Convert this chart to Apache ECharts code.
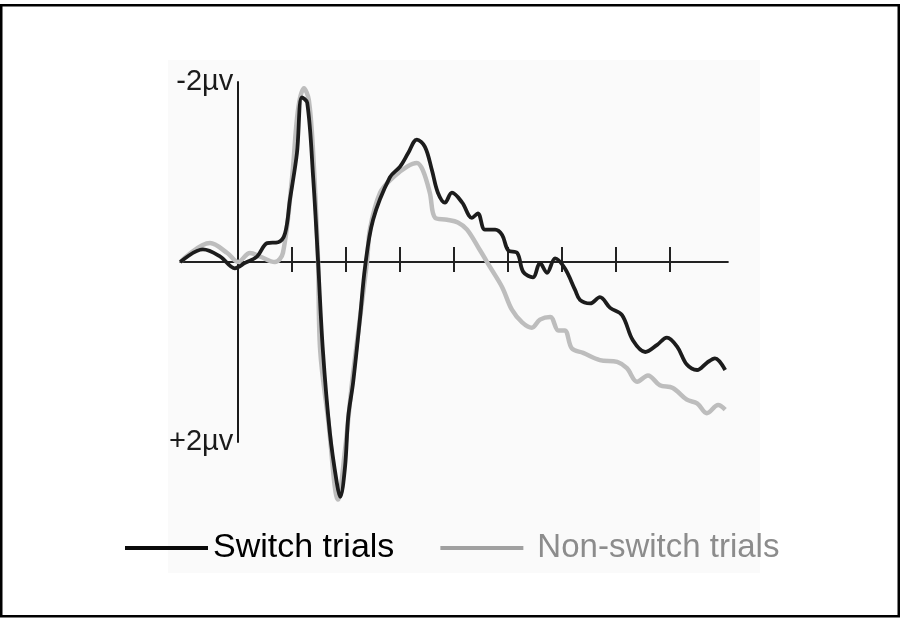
<!DOCTYPE html>
<html>
<head>
<meta charset="utf-8">
<script src="https://cdn.jsdelivr.net/npm/echarts@6/dist/echarts.min.js"></script>
<style>html,body{margin:0;padding:0;background:#fff}#c{width:902px;height:622px}</style>
</head>
<body>
<div id="c"></div>
<script>
// time (ms) , amplitude (µV; negative plotted upward)
var switchTime = [-106,-64,-32,-5,14,36,55,75,88,97,110,119,129,140,149,158,171,184,190,199,205,214,227,236,251,282,301,316,332,347,360,371,384,397,416,434,445,458,477,490,501,518,529,547,560,573,588,606,625,634,653,671,690,712,732,755,777,795,814,832,851,869,884,903];
var switchVals = [0.00,-0.14,-0.06,0.07,0.01,-0.06,-0.21,-0.22,-0.32,-0.69,-1.21,-1.83,-1.77,-0.94,-0.02,0.98,1.90,2.46,2.61,2.28,1.72,1.34,0.61,0.06,-0.47,-0.94,-1.06,-1.21,-1.36,-1.28,-1.02,-0.77,-0.66,-0.77,-0.66,-0.49,-0.54,-0.36,-0.36,-0.30,-0.13,-0.10,0.11,0.17,0.01,0.12,-0.04,0.07,0.31,0.42,0.46,0.39,0.51,0.59,0.87,1.00,0.92,0.84,0.94,1.14,1.20,1.12,1.07,1.20];
var nonSwitchTime = [-106,-51,-19,1,23,42,69,84,101,112,123,132,140,149,153,168,186,199,212,227,240,245,264,288,314,332,343,356,366,388,408,425,449,468,490,508,527,545,560,579,594,606,619,640,671,703,721,740,760,782,806,832,851,869,890,903];
var nonSwitchVals = [0.00,-0.21,-0.10,0.00,-0.10,-0.06,0.00,-0.10,-0.94,-1.69,-1.93,-1.80,-1.21,-0.02,0.98,1.76,2.64,2.09,1.34,0.61,-0.02,-0.36,-0.77,-0.94,-1.06,-1.10,-1.02,-0.77,-0.49,-0.47,-0.44,-0.36,-0.13,0.06,0.28,0.53,0.67,0.73,0.64,0.61,0.76,0.76,0.96,1.01,1.09,1.11,1.18,1.33,1.26,1.37,1.40,1.53,1.57,1.68,1.59,1.64];
var xTicks = [100,200,300,400,500,600,700,800];
var yLabelValues = [-2, 2];
var yLabelTexts = {'-2': '-2\u00b5v', '2': '+2\u00b5v'};
var seriesNames = ['Switch trials', 'Non-switch trials'];

function pairs(t, v) { return t.map(function (x, i) { return [x, v[i]]; }); }

var chart = echarts.init(document.getElementById('c'), null, {renderer: 'canvas'});
var FONT = "'Liberation Sans', Arial, sans-serif";
chart.setOption({
  animation: false,
  backgroundColor: '#ffffff',
  graphic: [
    {type: 'rect', z: -10, shape: {x: 168, y: 60, width: 592, height: 513}, style: {fill: '#fafafa'}},
    {type: 'rect', z: 100, shape: {x: 1.25, y: 5.25, width: 897.5, height: 611}, style: {fill: 'none', stroke: '#000', lineWidth: 2.5}}
  ],
  grid: {left: 180.3, width: 547.6, top: 82, height: 360, containLabel: false},
  xAxis: [
    {type: 'value', min: -106, max: 908,
     axisLine: {show: true, onZero: true, lineStyle: {color: '#222', width: 2}},
     axisTick: {show: true, inside: true, length: 15, customValues: xTicks, lineStyle: {color: '#222', width: 2}},
     axisLabel: {show: false}, splitLine: {show: false}},
    {type: 'value', min: -106, max: 908, position: 'bottom',
     axisLine: {show: false, onZero: true, onZeroAxisIndex: 0},
     axisTick: {show: true, inside: false, length: 10, customValues: xTicks, lineStyle: {color: '#222', width: 2}},
     axisLabel: {show: false}, splitLine: {show: false}}
  ],
  yAxis: {type: 'value', min: -2, max: 2, inverse: true,
    axisLine: {show: true, onZero: true, lineStyle: {color: '#1a1a1a', width: 2}},
    axisTick: {show: false},
    splitLine: {show: false},
    axisLabel: {show: true, customValues: yLabelValues, margin: -53, fontFamily: FONT, fontSize: 29, color: '#1a1a1a',
      formatter: function (v) { return yLabelTexts[String(v)]; }}
  },
  legend: {
    left: 120, top: 526, itemWidth: 83, itemHeight: 4, itemGap: 46,
    textStyle: {fontFamily: FONT, fontSize: 34, padding: [0, 0, 0, 0]},
    data: [
      {name: seriesNames[0], icon: 'rect', textStyle: {color: '#000'}, itemStyle: {color: '#0a0a0a'}},
      {name: seriesNames[1], icon: 'rect', textStyle: {color: '#8c8c8c', fontSize: 33, padding: [0, 0, 0, 9]}, itemStyle: {color: '#a0a0a0'}}
    ]
  },
  series: [
    {name: seriesNames[1], type: 'line', data: pairs(nonSwitchTime, nonSwitchVals), symbol: 'none', smooth: 0.35, clip: false, z: 3,
     lineStyle: {color: '#bdbdbd', width: 4.5}, itemStyle: {color: '#bdbdbd'}},
    {name: seriesNames[0], type: 'line', data: pairs(switchTime, switchVals), symbol: 'none', smooth: 0.35, clip: false, z: 4,
     lineStyle: {color: '#1c1c1c', width: 3.8}, itemStyle: {color: '#1c1c1c'}}
  ]
});
</script>
</body>
</html>
